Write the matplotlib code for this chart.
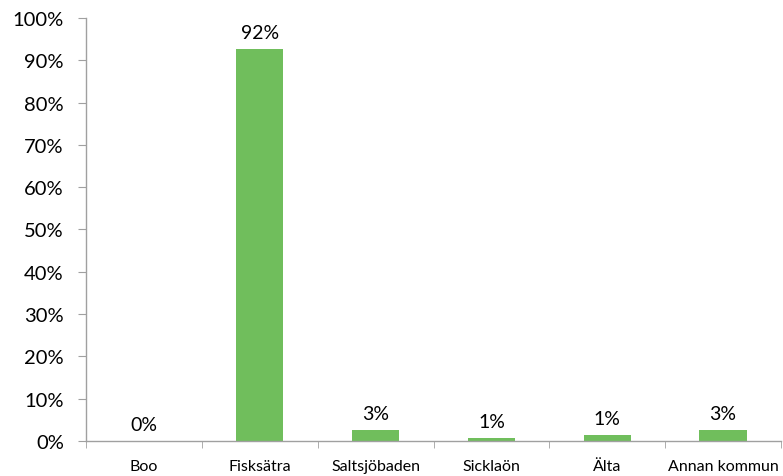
import matplotlib
matplotlib.use("Agg")
import matplotlib.pyplot as plt
import numpy as np

categories = ["Boo", "Fisksätra", "Saltsjöbaden", "Sicklaön", "Älta", "Annan kommun"]
values = [0.0, 92.7, 2.5, 0.7, 1.35, 2.5]
labels = ["0%", "92%", "3%", "1%", "1%", "3%"]
yticks = [0, 10, 20, 30, 40, 50, 60, 70, 80, 90, 100]

plt.rcParams['font.family'] = ['Lato', 'DejaVu Sans']

fig = plt.figure(figsize=(7.83, 4.77), dpi=100)
ax = fig.add_axes([86/783, 35/477, (781-86)/783, (442-19)/477])

x = np.arange(len(categories))
bars = ax.bar(x, values, width=0.41, color="#70BE5C", zorder=2)
for xi, v, lab in zip(x, values, labels):
    ax.annotate(lab, (xi, v), xytext=(0, 6), textcoords="offset points",
                ha="center", va="bottom", fontsize=14, color="black")

ax.set_xlim(-0.5, len(categories) - 0.5)
ax.set_ylim(0, 100)
ax.set_yticks(yticks)
ax.set_yticklabels([f"{t}%" for t in yticks], fontsize=14.5)

ax.set_xticks(x)
ax.set_xticklabels(categories, fontsize=11.5)
ax.tick_params(axis="x", length=0, pad=13)
ax.set_xticks(np.arange(len(categories) + 1) - 0.5, minor=True)
ax.tick_params(axis="x", which="minor", length=5, color="#A0A0A0", direction="out")
ax.tick_params(axis="y", length=6, color="#A0A0A0", direction="out", pad=10)

for s in ["top", "right"]:
    ax.spines[s].set_visible(False)
for s in ["left", "bottom"]:
    ax.spines[s].set_color("#A0A0A0")
    ax.spines[s].set_linewidth(1)

fig.savefig("out.png", dpi=100)
